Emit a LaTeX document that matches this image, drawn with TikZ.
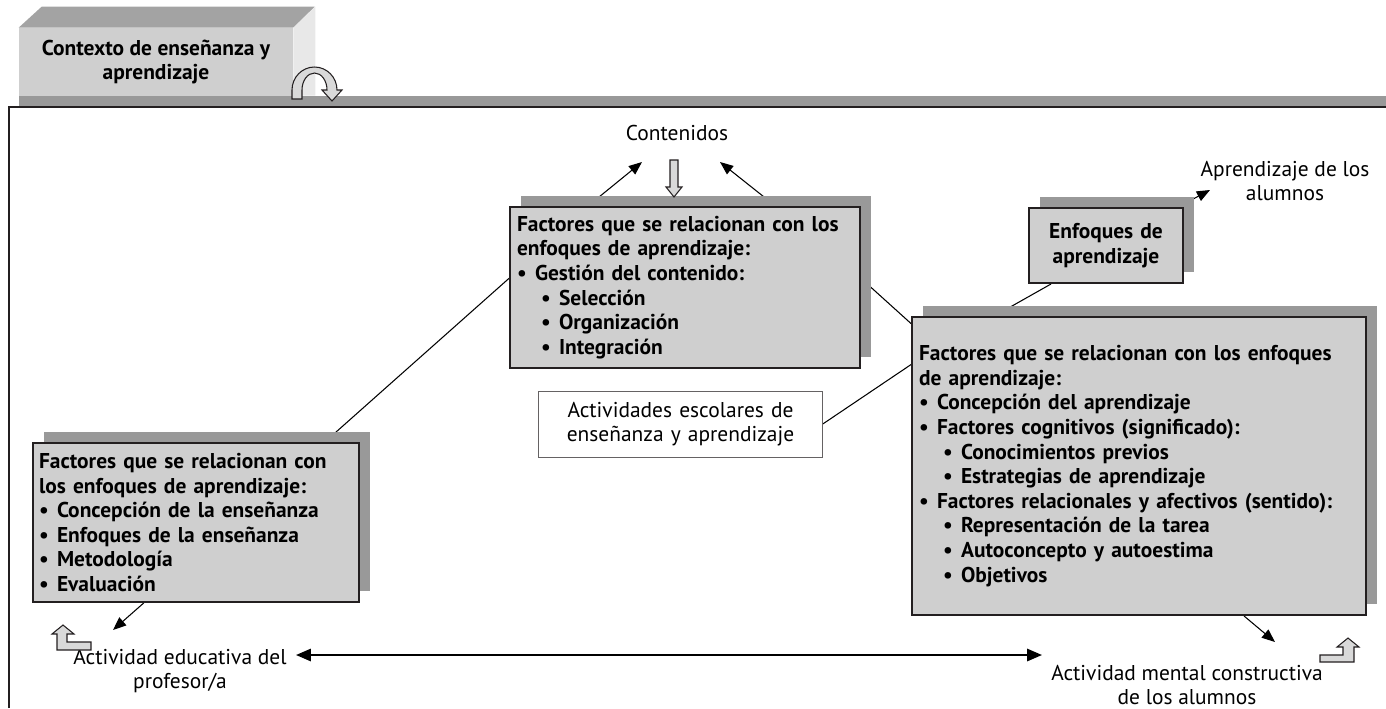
\documentclass[tikz,border=0pt]{standalone}
\usepackage{fontspec}
\setmainfont{PT Sans}
\usetikzlibrary{arrows.meta,shadows,backgrounds,calc}

\definecolor{boxgray}{HTML}{CFCFCF}
\definecolor{shadegray}{HTML}{999999}
\definecolor{topgray}{HTML}{A3A3A3}
\definecolor{sidegray}{HTML}{E8E8E8}
\definecolor{edgegray}{HTML}{231F20}

\newcommand{\bul}[1]{\makebox[0.36cm][l]{\textbullet}#1}
\newcommand{\subbul}[1]{\hspace*{0.48cm}\makebox[0.36cm][l]{\textbullet}#1}

\begin{document}
\begin{tikzpicture}[x=0.02cm,y=-0.02cm,
  factbox/.style={draw=edgegray,line width=1.1pt,fill=boxgray,
    general shadow={fill=shadegray,shadow xshift=0.22cm,shadow yshift=0.22cm},
    font=\fontsize{12.2}{14}\selectfont\bfseries,align=left,inner xsep=0.14cm},
  lbl/.style={font=\fontsize{12.2}{14}\selectfont,align=center},
  con/.style={line width=0.6pt},
  tip/.style={-{Triangle[length=7.5pt,width=6pt]}},
  hollow/.style={draw=edgegray,line width=0.6pt,fill=boxgray!80!white}]
\useasboundingbox (0,0) rectangle (1386,708);

% frame
\fill[shadegray] (19,96) rectangle (1386,106);
\draw[line width=1.1pt,edgegray] (9,708) -- (9,107) -- (1386,107);

% context box
\node[fill=boxgray,minimum width=5.48cm,minimum height=1.36cm,
  font=\fontsize{12.2}{14}\selectfont\bfseries,align=center] (ctx) at (156,62)
  {Contexto de enseñanza y\\aprendizaje};
\fill[topgray] (ctx.north west) -- ++(23,-21) -- ++(273,0) -- (ctx.north east) -- cycle;
\fill[sidegray] (ctx.north east) -- ++(22,-21) -- ++(0,89) -- ++(-22,0) -- cycle;
\draw[hollow] (292,99) -- (292,90) arc[start angle=180,end angle=0,x radius=0.45cm,y radius=0.46cm]
  -- (342,90) -- (332,101) -- (322,90) -- (327,90)
  arc[start angle=0,end angle=180,x radius=0.25cm,y radius=0.34cm] -- (302,99) -- cycle;

% nodes
\node[lbl] (cont) at (677,133) {Contenidos};
\node[factbox,text width=6.72cm,minimum height=3.22cm] (cen) at (685,287.5)
  {Factores que se relacionan con los\\enfoques de aprendizaje:\\
   \bul{Gestión del contenido:}\\\subbul{Selección}\\\subbul{Organización}\\\subbul{Integración}};
\node[factbox,align=center,text width=2.8cm,minimum height=1.5cm] (enf) at (1106,245.5)
  {Enfoques de\\aprendizaje};
\node[lbl] (apr) at (1285,181) {Aprendizaje de los\\alumnos};
\node[factbox,text width=8.8cm,minimum height=5.96cm] (rgt) at (1139,466)
  {Factores que se relacionan con los enfoques\\de aprendizaje:\\
   \bul{Concepción del aprendizaje}\\\bul{Factores cognitivos (significado):}\\
   \subbul{Conocimientos previos}\\\subbul{Estrategias de aprendizaje}\\
   \bul{Factores relacionales y afectivos (sentido):}\\
   \subbul{Representación de la tarea}\\\subbul{Autoconcepto y autoestima}\\\subbul{Objetivos}};
\node[lbl,draw=edgegray!70,line width=0.5pt,fill=white,text width=5.44cm,minimum height=1.32cm]
  (act) at (680.5,424) {Actividades escolares de\\enseñanza y aprendizaje};
\node[factbox,text width=6.28cm,minimum height=3.18cm,inner xsep=0.12cm] (lft) at (196,522.5)
  {Factores que se relacionan con\\los enfoques de aprendizaje:\\
   \bul{Concepción de la enseñanza}\\\bul{Enfoques de la enseñanza}\\\bul{Metodología}\\\bul{Evaluación}};
\node[lbl] (edu) at (180,671) {Actividad educativa del\\profesor/a};
\node[lbl] (men) at (1187,685) {Actividad mental constructiva\\de los alumnos};

% connectors
\begin{scope}[on background layer]
\draw[con,tip] (cen.140) -- ($(cont.center)+(-35,29)$);
\draw[con,tip] (cen.42) -- ($(cont.center)+(43,29)$);
\draw[con] (cen.177) -- (lft.32);
\draw[con] (cen.3) -- (rgt.148);
\draw[con] (act.east) -- (rgt.156);
\draw[con] (enf.215) -- (rgt.134);
\draw[con,tip] (enf.center) -- ($(apr.center)+(-75,9)$);
\draw[con,tip] (lft.237) -- ($(edu.center)+(-67,-41)$);
\draw[con,tip] (rgt.305) -- ($(men.center)+(88,-43)$);
\draw[line width=1.2pt,{Triangle[length=8.5pt,width=7pt]}-{Triangle[length=8.5pt,width=7pt]}]
  ($(edu.center)+(116,-16)$) -- ($(men.center)+(-145,-30)$);
\end{scope}

% hollow arrows
\draw[hollow] (670,160) -- (678,160) -- (678,187) -- (682,187) -- (674,197) -- (666,187) -- (670,187) -- cycle;
\draw[hollow] (63,625) -- (74,634) -- (67,634) -- (67,642) -- (91,642) -- (91,650) -- (57,650) -- (57,634) -- (52,634) -- cycle;
\draw[hollow] (1348,638) -- (1359,647) -- (1354,647) -- (1354,662) -- (1320,662) -- (1320,655) -- (1343,655) -- (1343,647) -- (1337,647) -- cycle;
\end{tikzpicture}
\end{document}
